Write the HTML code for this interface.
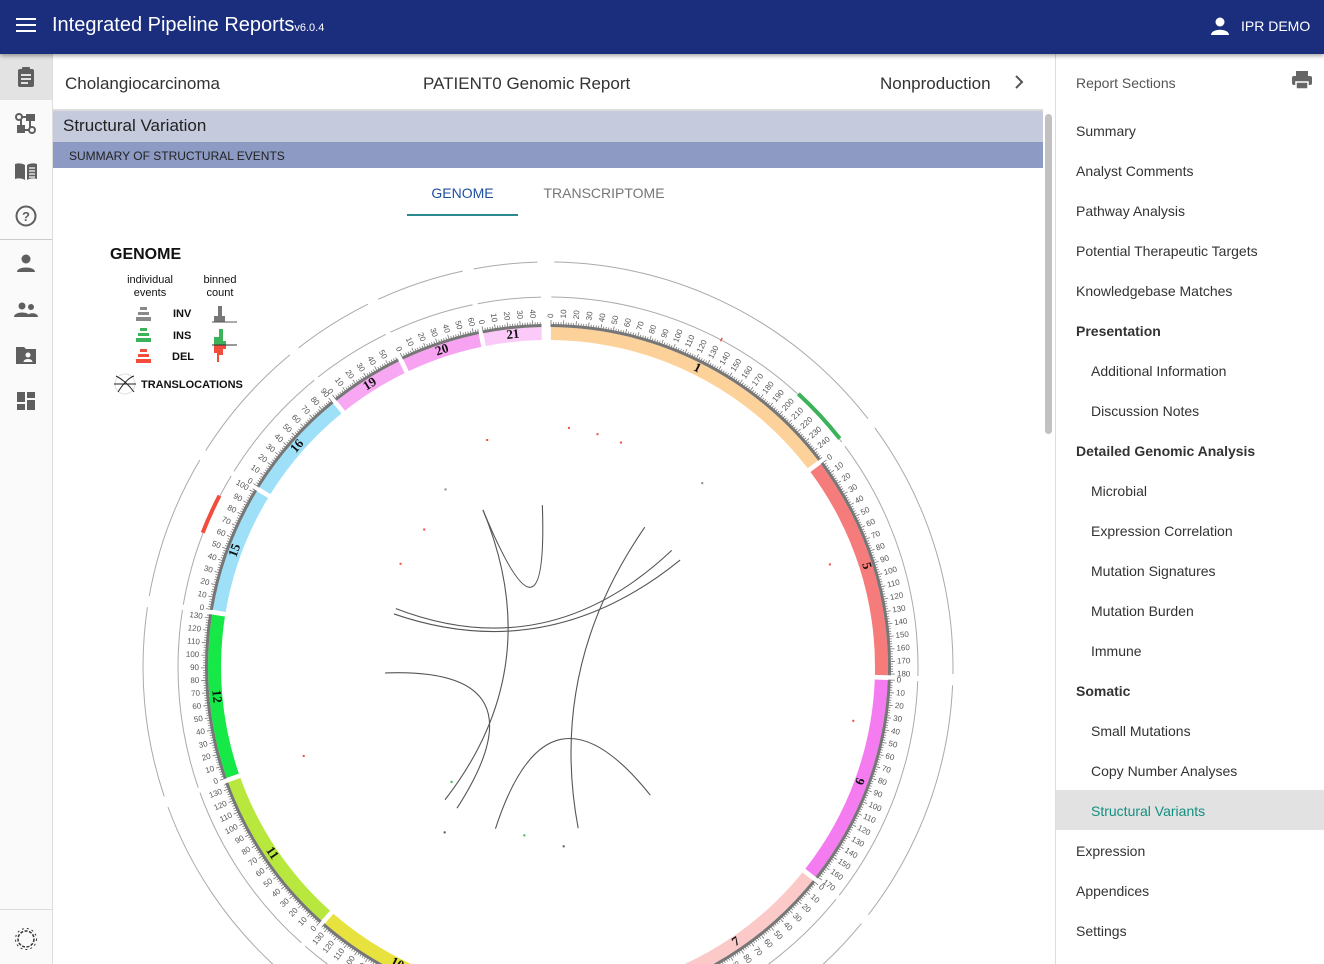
<!DOCTYPE html>
<html><head><meta charset="utf-8">
<style>
*{box-sizing:border-box;margin:0;padding:0}
body{width:1324px;height:964px;overflow:hidden;font-family:"Liberation Sans",sans-serif;background:#fff;position:relative;color:#333}
.hdr{position:absolute;left:0;top:0;width:1324px;height:54px;background:#1b2e7e;color:#fff;box-shadow:0 2px 4px rgba(0,0,0,.35);z-index:5}
.rail{position:absolute;left:0;top:54px;width:53px;height:910px;background:#fafafa;border-right:1px solid #ddd}
.ic{position:absolute;left:14px;width:24px;height:24px}
.rp{position:absolute;left:1055px;top:54px;width:269px;height:910px;border-left:1px solid #ddd;background:#fff}
.rp div{position:absolute;font-size:14px;color:#333}
</style></head><body>
<div class="hdr">
 <svg style="position:absolute;left:16px;top:17px" width="20" height="16"><rect y="1" width="20" height="2" fill="#fff"/><rect y="7" width="20" height="2" fill="#fff"/><rect y="13" width="20" height="2" fill="#fff"/></svg>
 <div style="position:absolute;left:52px;top:14px;font-size:20px">Integrated Pipeline Reports<span style="font-size:11px">v6.0.4</span></div>
 <svg style="position:absolute;left:1210px;top:16px" width="20" height="20"><circle cx="10" cy="6" r="4.5" fill="#fff"/><path d="M1 19 C1 12 19 12 19 19Z" fill="#fff"/></svg>
 <div style="position:absolute;left:1241px;top:18px;font-size:14px">IPR DEMO</div>
</div>
<div class="rail">
 <div style="position:absolute;left:0;top:0;width:52px;height:46px;background:#e3e3e3"></div>
 <svg class="ic" style="top:11px" viewBox="0 0 24 24"><rect x="4" y="4" width="16" height="18" rx="2" fill="#5f5f5f"/><rect x="8" y="2" width="8" height="4" rx="1" fill="#5f5f5f"/><rect x="7" y="9" width="10" height="2" fill="#e3e3e3"/><rect x="7" y="13" width="10" height="2" fill="#e3e3e3"/><rect x="7" y="17" width="7" height="2" fill="#e3e3e3"/></svg>
 <svg class="ic" style="top:58px" viewBox="0 0 24 24"><circle cx="5" cy="5" r="3" fill="none" stroke="#5f5f5f" stroke-width="2"/><rect x="12" y="2" width="9" height="7" fill="#5f5f5f"/><rect x="3" y="13" width="8" height="8" fill="#5f5f5f"/><circle cx="18" cy="18" r="3" fill="none" stroke="#5f5f5f" stroke-width="2"/><path d="M8 5h4M7 13V8M11 18h4M16 9v6" stroke="#5f5f5f" stroke-width="2"/></svg>
 <svg class="ic" style="top:105px" viewBox="0 0 24 24"><path d="M1 5c3-1 7-1 10 1v15c-3-2-7-2-10-1zM13 6c3-2 7-2 10-1v15c-3-1-7-1-10 1z" fill="#5f5f5f"/><path d="M15 9h6M15 12h6M15 15h6M15 18h6" stroke="#fafafa" stroke-width="1.2"/></svg>
 <svg class="ic" style="top:150px" viewBox="0 0 24 24"><circle cx="12" cy="12" r="9.5" fill="none" stroke="#5f5f5f" stroke-width="2"/><text x="12" y="17" text-anchor="middle" font-size="13" font-weight="bold" fill="#5f5f5f" font-family="Liberation Sans">?</text></svg>
 <div style="position:absolute;left:0;top:185px;width:52px;height:1px;background:#ccc"></div>
 <svg class="ic" style="top:197px" viewBox="0 0 24 24"><circle cx="12" cy="8" r="4.5" fill="#5f5f5f"/><path d="M3 21c0-6 18-6 18 0z" fill="#5f5f5f"/></svg>
 <svg class="ic" style="top:243px" viewBox="0 0 24 24"><circle cx="8" cy="9" r="3.5" fill="#5f5f5f"/><circle cx="17" cy="10" r="3" fill="#5f5f5f"/><path d="M0 20c0-6 16-6 16 0zM13 20c0-5 11-5 11 0z" fill="#5f5f5f"/></svg>
 <svg class="ic" style="top:289px" viewBox="0 0 24 24"><path d="M2 4h8l2 2h10v15H2z" fill="#5f5f5f"/><circle cx="14" cy="12" r="2.5" fill="#fafafa"/><path d="M9.5 19c0-4 9-4 9 0z" fill="#fafafa"/></svg>
 <svg class="ic" style="top:335px" viewBox="0 0 24 24"><path d="M3 3h8v10H3zM13 3h8v6h-8zM13 11h8v10h-8zM3 15h8v6H3z" fill="#5f5f5f"/></svg>
 <div style="position:absolute;left:0;top:855px;width:52px;height:1px;background:#ddd"></div>
 <svg class="ic" style="top:873px" viewBox="0 0 24 24"><circle cx="12" cy="12" r="8" fill="none" stroke="#333" stroke-width="1.5" stroke-dasharray="3 1.5"/><circle cx="12" cy="12" r="10.5" fill="none" stroke="#333" stroke-width="1" stroke-dasharray="2 3"/></svg>
</div>

<div style="position:absolute;left:53px;top:54px;width:990px;height:57px;border-bottom:2px solid #ddd">
 <div style="position:absolute;left:12px;top:20px;font-size:17px;color:#333">Cholangiocarcinoma</div>
 <div style="position:absolute;left:370px;top:20px;font-size:17px;color:#333">PATIENT0 Genomic Report</div>
 <div style="position:absolute;left:827px;top:20px;font-size:17px;color:#333">Nonproduction</div>
 <svg style="position:absolute;left:960px;top:20px" width="12" height="16"><path d="M3 2l6 6-6 6" fill="none" stroke="#555" stroke-width="2"/></svg>
</div>
<div style="position:absolute;left:53px;top:111px;width:990px;height:31px;background:#c5cadd;font-size:17px;padding:5px 10px;color:#222">Structural Variation</div>
<div style="position:absolute;left:53px;top:142px;width:990px;height:26px;background:#8c9ac4;font-size:12px;padding:7px 16px;color:#222">SUMMARY OF STRUCTURAL EVENTS</div>
<div style="position:absolute;left:1045px;top:114px;width:7px;height:320px;background:#c1c1c1;border-radius:4px"></div>
<div style="position:absolute;left:407px;top:185px;width:111px;text-align:center;font-size:14px;color:#1f4fa0">GENOME</div>
<div style="position:absolute;left:407px;top:214px;width:111px;height:2px;background:#2a8a8e"></div>
<div style="position:absolute;left:530px;top:185px;width:148px;text-align:center;font-size:14px;color:#777">TRANSCRIPTOME</div>

<svg id="circos" style="position:absolute;left:53px;top:168px" width="990" height="796" viewBox="53 168 990 796" font-family="Liberation Sans">
 <g font-family="Liberation Sans" fill="#111">
  <text x="110" y="259" font-size="16" font-weight="bold">GENOME</text>
  <text x="150" y="283" font-size="11" text-anchor="middle">individual</text>
  <text x="150" y="296" font-size="11" text-anchor="middle">events</text>
  <text x="220" y="283" font-size="11" text-anchor="middle">binned</text>
  <text x="220" y="296" font-size="11" text-anchor="middle">count</text>
  <g fill="#888"><rect x="140" y="307" width="7" height="3"/><rect x="138" y="312" width="11" height="3"/><rect x="136" y="317" width="15" height="4"/></g>
  <g fill="#3cb35a"><rect x="140" y="328" width="7" height="3"/><rect x="138" y="333" width="11" height="3"/><rect x="136" y="338" width="15" height="4"/></g>
  <g fill="#f24c3c"><rect x="140" y="349" width="7" height="3"/><rect x="138" y="354" width="11" height="3"/><rect x="136" y="359" width="15" height="4"/></g>
  <text x="173" y="317" font-size="11" font-weight="bold">INV</text>
  <text x="173" y="339" font-size="11" font-weight="bold">INS</text>
  <text x="172" y="360" font-size="11" font-weight="bold">DEL</text>
  <path d="M214 322v-6h4v-10h4v10h3v6z" fill="#777"/><line x1="212" y1="322" x2="237" y2="322" stroke="#555"/>
  <path d="M214 345v-8h5v-8h4v12h3v4z" fill="#3cb35a"/><path d="M214 345h12v4h-3v6h-4v7h-2v-9h-3z" fill="#f24c3c"/><line x1="212" y1="345" x2="237" y2="345" stroke="#333"/>
  <circle cx="125" cy="384" r="10" fill="none" stroke="#ddd"/><path d="M116 376c6 3 12 8 18 16M118 392c5-8 10-14 16-16M114 384h22" stroke="#222" fill="none"/>
  <text x="141" y="388" font-size="11" font-weight="bold">TRANSLOCATIONS</text>
 </g>
 <g id="ideo"></g>
</svg>

<div class="rp">
 <div style="left:20px;top:21px;color:#555">Report Sections</div>
 <svg style="position:absolute;left:235px;top:16px" width="22" height="20"><rect x="5" y="1" width="12" height="5" fill="#666"/><rect x="1" y="6" width="20" height="9" rx="2" fill="#666"/><rect x="5" y="12" width="12" height="7" fill="#666" stroke="#fff" stroke-width="1.5"/></svg>
 <div style="left:0;top:736px;width:269px;height:40px;background:#e2e2e2;position:absolute"></div>
 <div style="left:20px;top:69px">Summary</div>
 <div style="left:20px;top:109px">Analyst Comments</div>
 <div style="left:20px;top:149px">Pathway Analysis</div>
 <div style="left:20px;top:189px">Potential Therapeutic Targets</div>
 <div style="left:20px;top:229px">Knowledgebase Matches</div>
 <div style="left:20px;top:269px;font-weight:bold">Presentation</div>
 <div style="left:35px;top:309px">Additional Information</div>
 <div style="left:35px;top:349px">Discussion Notes</div>
 <div style="left:20px;top:389px;font-weight:bold">Detailed Genomic Analysis</div>
 <div style="left:35px;top:429px">Microbial</div>
 <div style="left:35px;top:469px">Expression Correlation</div>
 <div style="left:35px;top:509px">Mutation Signatures</div>
 <div style="left:35px;top:549px">Mutation Burden</div>
 <div style="left:35px;top:589px">Immune</div>
 <div style="left:20px;top:629px;font-weight:bold">Somatic</div>
 <div style="left:35px;top:669px">Small Mutations</div>
 <div style="left:35px;top:709px">Copy Number Analyses</div>
 <div style="left:35px;top:749px;color:#138f80">Structural Variants</div>
 <div style="left:20px;top:789px">Expression</div>
 <div style="left:20px;top:829px">Appendices</div>
 <div style="left:20px;top:869px">Settings</div>
</div>

<script>
const chromNames=["1","5","6","7","9","10","11","12","15","16","19","20","21"];
const chromSizes=[248,181,171,159,138,134,135,133,102,90,59,64,47];
const chromColors=["#fdd19a","#f67b7b","#f47cf0","#fcc9c9","#f3b1b1","#e7e23d","#b8e83e","#16e847","#9de0f8","#9de0f8","#f8a8f3","#f7a3f1","#fccaf9"];
// links: [startAngleDeg, startRadius, endAngleDeg, endRadius]
const linkStartAngle=[337.5,34.7,46.7,51,267.9,198,337.5];
const linkStartR=[170,170,170,170,163,170,170];
const linkEndAngle=[358,169.4,291,289,212.8,141.4,217.8];
const linkEndR=[162,164,163,163,168,164,168];
// track arcs: chromosome index, start Mb, end Mb, color
const arcChrom=[0,8,0];
const arcStart=[200,55,130];
const arcEnd=[245,85,131];
const arcColor=["#3cb35a","#f24c3c","#f24c3c"];
// scattered point events: angle, radius, color
const dotAngle=[345,5,12,18,330,318,305,70,40,220,100,250,212,175,188];
const dotR=[235,240,238,236,205,185,180,300,240,150,310,260,195,180,170];
const dotColor=["#f24c3c","#f24c3c","#f24c3c","#f24c3c","#888","#f24c3c","#f24c3c","#f24c3c","#888","#3cb35a","#f24c3c","#f24c3c","#555","#555","#3cb35a"];

const cx=548,cy=667,R0=327,R1=340,GAP=0.8,SCALE=0.21;
const NS="http://www.w3.org/2000/svg";
const g=document.getElementById('ideo');
function pol(a,r){const t=a*Math.PI/180;return [cx+r*Math.sin(t),cy-r*Math.cos(t)];}
function ang(ci,mb){let a=0.5;for(let i=0;i<ci;i++)a+=chromSizes[i]*SCALE+GAP;return a+mb*SCALE;}
function arc(a0,a1,r){const p=pol(a0,r),q=pol(a1,r);return `M${p[0]},${p[1]}A${r},${r} 0 ${a1-a0>180?1:0} 1 ${q[0]},${q[1]}`;}
function band(a0,a1,r0,r1){const p=pol(a0,r1),q=pol(a1,r1),s=pol(a1,r0),t=pol(a0,r0);const l=a1-a0>180?1:0;
 return `M${p[0]},${p[1]}A${r1},${r1} 0 ${l} 1 ${q[0]},${q[1]}L${s[0]},${s[1]}A${r0},${r0} 0 ${l} 0 ${t[0]},${t[1]}Z`;}
function mk(tag,attrs){const e=document.createElementNS(NS,tag);for(const k in attrs)e.setAttribute(k,attrs[k]);g.appendChild(e);return e;}
chromSizes.forEach((sz,i)=>{
 const a0=ang(i,0),a1=ang(i,sz);
 let e=mk('path',{d:band(a0,a1,R0,R1),fill:chromColors[i]});
 
 
 mk('path',{d:band(a0,a1,R1,R1+3),fill:'#777'});
 for(let m=0;m<=sz;m+=2){const p=pol(ang(i,m),R1),q=pol(ang(i,m),R1+(m%10==0?7:5));mk('line',{x1:p[0],y1:p[1],x2:q[0],y2:q[1],stroke:'#777','stroke-width':0.8});}
 for(let m=0;m<=sz;m+=10){const a=ang(i,m),p=pol(a,R1+9);
  const left=a>180;
  const t=mk('text',{x:p[0],y:p[1],'font-size':8,fill:'#555','text-anchor':left?'end':'start',transform:`rotate(${left?a+90:a-90} ${p[0]} ${p[1]})`,'dominant-baseline':'middle'});t.textContent=m;}
 const am=(a0+a1)/2,pm=pol(am,R0+6.5);
 const rot=(am>90&&am<270)?am+180:am;
 const lt=mk('text',{x:pm[0],y:pm[1],'font-size':13,'font-weight':'bold','font-family':'Liberation Serif',fill:'#111','text-anchor':'middle','dominant-baseline':'middle',transform:`rotate(${rot} ${pm[0]} ${pm[1]})`});
 lt.textContent=chromNames[i];
 
 
 mk('path',{d:arc(a0,a1,370),fill:'none',stroke:'#aaa','stroke-width':1});
 mk('path',{d:arc(a0+0.4,a1-0.4,405),fill:'none',stroke:'#aaa','stroke-width':1});
});
arcChrom.forEach((c,i)=>{
 const e=mk('path',{d:band(ang(c,arcStart[i]),ang(c,arcEnd[i]),368.5,372.5),fill:arcColor[i]});
 
 
});
dotAngle.forEach((a,i)=>{
 const p=pol(a,dotR[i]);
 const e=mk('rect',{x:p[0]-1,y:p[1]-1,width:2,height:2,fill:dotColor[i]});
 
 
});
linkStartAngle.forEach((a,i)=>{
 const p=pol(a,linkStartR[i]),q=pol(linkEndAngle[i],linkEndR[i]);
 const e=mk('path',{d:`M${p[0]},${p[1]}Q${cx},${cy} ${q[0]},${q[1]}`,fill:'none',stroke:'#555','stroke-width':1.1});
 
 
});
</script>
</body></html>
